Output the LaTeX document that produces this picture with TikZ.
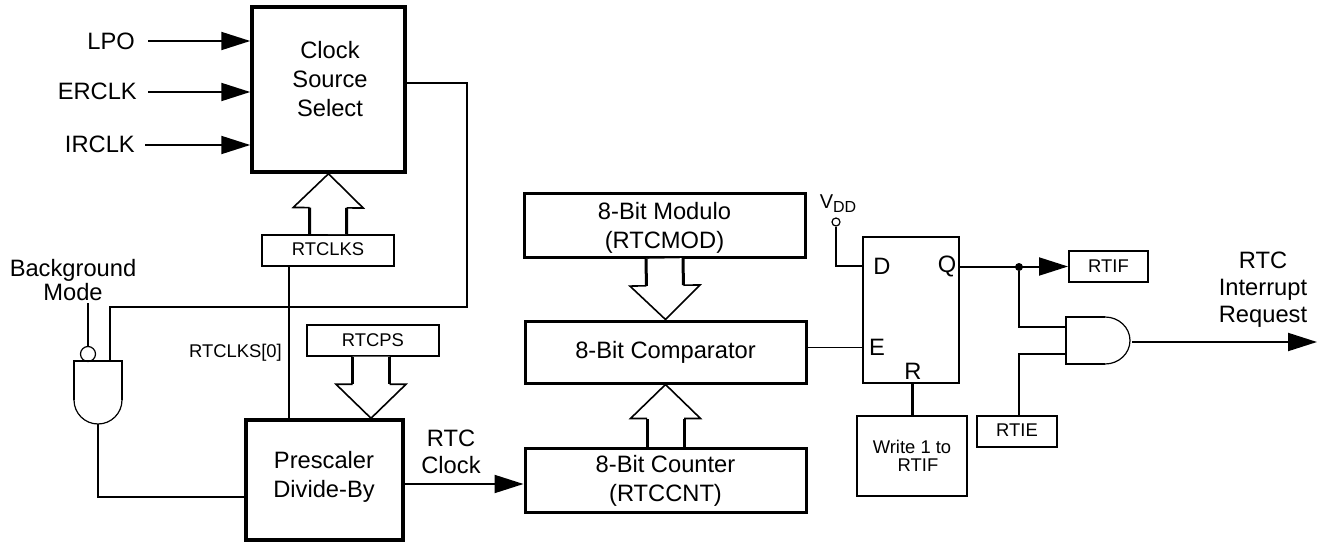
\documentclass[tikz,border=0pt]{standalone}
\usepackage{fontspec}
\setmainfont{Liberation Sans}
\usetikzlibrary{arrows.meta,calc}
\newcommand{\busarrow}[2]{%
  \path #1 coordinate (bustail) #2 coordinate (bustip);
  \path ($(bustip)!34pt!(bustail)$) coordinate (busbase);
  \fill[white] ($(bustail)!18.5pt!90:(bustip)$) -- ($(busbase)!18.5pt!90:(bustip)$)
    -- ($(busbase)!35pt!90:(bustip)$) -- (bustip) -- ($(busbase)!35pt!-90:(bustip)$)
    -- ($(busbase)!18.5pt!-90:(bustip)$) -- ($(bustail)!18.5pt!-90:(bustip)$) -- cycle;
  \draw[line width=3pt] ($(bustail)!18.5pt!90:(bustip)$) -- ($(busbase)!18.5pt!90:(bustip)$);
  \draw[line width=3pt] ($(bustail)!18.5pt!-90:(bustip)$) -- ($(busbase)!18.5pt!-90:(bustip)$);
  \draw[line width=1.6pt] ($(busbase)!18.5pt!90:(bustip)$) -- ($(busbase)!35pt!90:(bustip)$)
    -- (bustip) -- ($(busbase)!35pt!-90:(bustip)$) -- ($(busbase)!18.5pt!-90:(bustip)$);
}
\tikzset{
  bigtxt/.style={font=\fontsize{23.7}{29}\selectfont, align=center, inner sep=0pt},
  smalltxt/.style={font=\fontsize{18.4}{18.5}\selectfont, align=center, inner sep=0pt},
  heavybox/.style={draw, line width=3.5pt, bigtxt, minimum width=#1},
  midbox/.style={draw, line width=3pt, bigtxt, minimum width=281pt},
  regbox/.style={draw, line width=2pt, smalltxt, minimum height=31pt, minimum width=#1},
  wire/.style={line width=2pt},
  sig/.style={wire, -{Triangle[length=29pt,width=18pt]}},
}
\begin{document}
\begin{tikzpicture}[x=1pt, y=-1pt]
  \useasboundingbox (0,0) rectangle (1326,543);
  % left side
  \node[heavybox=153pt, minimum height=165pt] (clksel) at (328.5,89.5) {};
  \node[bigtxt] (clktxt) at (330,79) {Clock\\Source\\Select};
  \node[regbox=132pt] (rtclks) at (328,250.5) {\raisebox{2pt}{RTCLKS}};
  \node[heavybox=157pt, minimum height=120pt] (prescale) at (324.5,480) {};
  \node[bigtxt] (pretxt) at (324,476.5) {Prescaler\\Divide-By};
  \node[regbox=132pt] (rtcps) at (373,340) {\raisebox{-2pt}{RTCPS}};
  \node[bigtxt, anchor=east] (lpo) at (135,41) {LPO};
  \node[bigtxt, anchor=east] (erclk) at (137,91) {ERCLK};
  \node[bigtxt, anchor=east] (irclk) at (135,144) {IRCLK};
  \node[bigtxt, align=center, font=\fontsize{23.7}{24.5}\selectfont] (bgmode) at (73,280) {Background\\Mode};
  \node[smalltxt, anchor=east] (clksbit) at (282,353) {RTCLKS[0]};
  \node[bigtxt, font=\fontsize{23.7}{27}\selectfont] (rtcclk) at (451,452) {RTC\\Clock};

  % 8-bit blocks
  \node[midbox, minimum height=64pt] (modulo) at (664.5,225) {\rule{0pt}{22pt}8-Bit Modulo\\(RTCMOD)};
  \node[midbox, minimum height=62pt] (compar) at (665.5,352) {8-Bit Comparator};
  \node[midbox, minimum height=64pt] (midcnt) at (665.5,480) {\rule{0pt}{19pt}8-Bit Counter\\(RTCCNT)};
  \busarrow{(modulo.south)}{(compar.north)}
  \busarrow{(midcnt.north)}{(compar.south)}

  \draw[sig] ([xshift=13pt]lpo.east) -- (clksel.west |- lpo.east);
  \draw[sig] ([xshift=11pt,yshift=-1pt]erclk.east) -- ([yshift=-1pt]clksel.west |- erclk.east);
  \draw[sig] ([xshift=10pt,yshift=-1pt]irclk.east) -- ([yshift=-1pt]clksel.west |- irclk.east);
  \busarrow{(rtclks.north)}{(clksel.south)}
  \busarrow{([xshift=-2pt]rtcps.south)}{([xshift=-2pt]rtcps.south |- prescale.north)}
  \draw[wire] ([xshift=-39pt]rtclks.south) -- ([xshift=-39pt]rtclks.south |- prescale.north);
  \draw[sig] ([yshift=-4pt]prescale.east) -- ([yshift=-4pt]midcnt.west |- prescale.east);

  % background gate
  \coordinate (bgtap) at (88,303);
  \coordinate (wiretop) at (467,307);
  \coordinate (gatein) at (110,361);
  \coordinate (gateout) at (98,424);
  \node[draw, circle, line width=1.2pt, minimum size=15pt, inner sep=0pt] (bubble) at (88,354) {};
  \draw[line width=2pt] (74,400) -- (74,361) -- (122,361) -- (122,400);
  \draw[line width=1.2pt] (122,400) arc[start angle=0, end angle=-180, radius=24pt];
  \draw[wire] (bgtap) -- (bubble);
  \draw[wire] ([yshift=6.5pt]clksel.east) -| (wiretop) -| (gatein);
  \draw[wire] (gateout) |- ([yshift=-17pt]prescale.west);

  % flag logic
  \node[draw, line width=2pt, minimum width=96pt, minimum height=146pt] (flop) at (911,310) {};
  \node[bigtxt] (dpin) at (882,266) {D};
  \node[bigtxt] (qpin) at (947,266) {Q};
  \node[bigtxt] (epin) at (877,347) {E};
  \node[bigtxt] (rpin) at (913,371) {R};
  \node[draw, circle, line width=1.2pt, minimum size=8pt, inner sep=0pt] (vdd) at (836,222) {};
  \node[inner sep=0pt, font=\fontsize{20}{20}\selectfont] (vddtxt) at (838,204) {V\raisebox{-4pt}{\fontsize{16}{16}\selectfont DD}};
  \node[draw, line width=2pt, smalltxt, minimum width=110pt, minimum height=80pt] (wrbox) at (912,456) {Write 1 to\\\hspace*{12pt}RTIF};
  \node[regbox=79pt] (rtif) at (1108.5,266.5) {RTIF};
  \node[regbox=80pt] (rtie) at (1017,431) {\raisebox{2pt}{RTIE}};
  \node[circle, fill, minimum size=8pt, inner sep=0pt] (qtap) at (1019,267) {};
  \coordinate (andina) at (1066,327);
  \coordinate (andinb) at (1066,354);
  \coordinate (andout) at (1132,342);
  \coordinate (outtip) at (1317,342);
  \node[bigtxt, font=\fontsize{23.7}{27}\selectfont] (rtcirq) at (1263,290) {RTC\\Interrupt\\Request};
  \draw[line width=2pt] (1105,317) -- (1066,317) -- (1066,364) -- (1105,364);
  \draw[line width=1.2pt] (1105,317) arc[start angle=90, end angle=-90, x radius=25pt, y radius=23.5pt];
  \draw[wire] (vdd) |- (flop.west |- dpin);
  \draw[line width=1pt] (compar.east |- epin) -- (flop.west |- epin);
  \draw[sig] (flop.east |- rtif.west) -- (rtif.west);
  \draw[wire] (qtap) |- (andina);
  \draw[wire] ([xshift=2pt]rtie.north) |- (andinb);
  \draw[line width=3pt] (wrbox.north) -- (wrbox.north |- flop.south);
  \draw[sig] (andout) -- (outtip);
\end{tikzpicture}
\end{document}
